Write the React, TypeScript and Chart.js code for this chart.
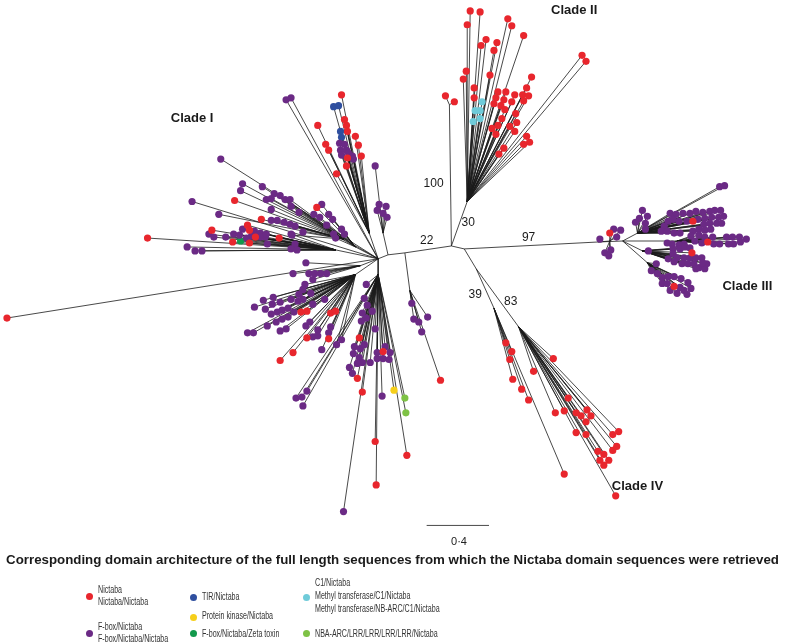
import React, { useEffect, useRef } from "react";
import { Chart, registerables } from "chart.js";

Chart.register(...registerables);

// Internal nodes of the unrooted tree: [x, y, parentIndex]
const nodes: [number, number, number][] = [
  [378, 258, -1], // 0 central hub
  [388, 254, 0], // 1
  [405, 252, 1], // 2
  [452, 245, 2], // 3
  [465, 248, 3], // 4
  [468, 200, 3], // 5 clade II base
  [450, 102, 3], // 6 bootstrap 100 branch
  [600, 241, 4], // 7 clade III stem
  [625, 240, 7], // 8
  [477, 268, 4], // 9 clade IV stem
  [495, 308, 9], // 10
  [520, 327, 9], // 11
  [369, 232, 0], // 12
  [383, 232, 1], // 13
  [343, 238, 0], // 14
  [335, 249, 0], // 15
  [355, 246, 0], // 16
  [360, 265, 0], // 17
  [355, 274, 0], // 18
  [378, 274, 0], // 19
  [410, 290, 2], // 20
  [640, 232, 8], // 21
  [645, 250, 8], // 22
  [612, 240, 7], // 23
  [680, 240, 8], // 24
  [650, 262, 8], // 25
];

// Leaves: [x, y, domain class, parent node]
type Leaf = [number, number, string, number];

const cladeII: Leaf[] = [
  [471, 7, "r", 5], [481, 8, "r", 5], [468, 21, "r", 5], [509, 15, "r", 5], [513, 22, "r", 5],
  [525, 32, "r", 5], [487, 36, "r", 5], [482, 42, "r", 5], [498, 39, "r", 5], [495, 47, "r", 5],
  [584, 52, "r", 5], [588, 58, "r", 5], [467, 68, "r", 5], [464, 76, "r", 5], [491, 72, "r", 5],
  [533, 74, "r", 5], [475, 85, "r", 5], [475, 95, "r", 5], [499, 89, "r", 5], [507, 89, "r", 5],
  [516, 92, "r", 5], [524, 92, "r", 5], [528, 85, "r", 5], [530, 93, "r", 5], [497, 95, "r", 5],
  [505, 97, "r", 5], [513, 99, "r", 5], [525, 98, "r", 5], [495, 101, "r", 5], [502, 103, "r", 5],
  [506, 107, "r", 5], [517, 111, "r", 5], [503, 116, "r", 5], [518, 120, "r", 5], [499, 123, "r", 5],
  [511, 124, "r", 5], [493, 126, "r", 5], [497, 132, "r", 5], [516, 129, "r", 5], [528, 134, "r", 5],
  [525, 142, "r", 5], [531, 140, "r", 5], [505, 146, "r", 5], [500, 152, "r", 5],
  [483, 99, "c", 5], [476, 108, "c", 5], [481, 108, "c", 5], [481, 116, "c", 5], [474, 119, "c", 5],
  [446, 93, "r", 6], [455, 99, "r", 6],
];

const cladeI: Leaf[] = [
  [341, 92, "r", 12], [333, 104, "b", 12], [338, 103, "b", 12], [344, 117, "r", 12], [346, 123, "r", 12],
  [347, 129, "r", 12], [340, 129, "b", 12], [341, 135, "b", 12], [355, 134, "r", 12], [358, 143, "r", 12],
  [317, 123, "r", 12], [325, 142, "r", 12], [328, 148, "r", 12], [339, 141, "p", 12], [344, 142, "p", 12],
  [340, 148, "p", 12], [346, 148, "p", 12], [341, 153, "p", 12], [348, 151, "p", 12], [352, 154, "p", 12],
  [347, 156, "r", 12], [361, 154, "r", 12], [353, 157, "p", 12], [346, 164, "r", 12], [336, 172, "r", 12],
  [285, 97, "p", 0], [290, 95, "p", 0],
  [375, 164, "p", 13], [379, 203, "p", 13], [386, 205, "p", 13], [377, 209, "p", 13], [383, 212, "p", 13], [387, 216, "p", 13],
  [219, 157, "p", 0], [190, 200, "p", 0],
  [241, 182, "p", 14], [239, 189, "p", 14], [261, 185, "p", 14], [273, 192, "p", 14], [279, 194, "p", 14],
  [284, 198, "p", 14], [289, 198, "p", 14], [265, 198, "p", 14], [270, 197, "p", 14], [290, 205, "p", 14],
  [270, 208, "p", 14], [298, 211, "p", 14], [233, 199, "r", 14], [217, 213, "p", 14], [260, 218, "r", 14],
  [270, 219, "p", 14], [276, 219, "p", 14], [283, 221, "p", 14], [289, 223, "p", 14], [294, 225, "p", 14],
  [302, 231, "p", 14], [291, 234, "p", 14],
  [316, 206, "r", 16], [321, 203, "p", 16], [313, 213, "p", 16], [319, 216, "p", 16], [328, 213, "p", 16],
  [332, 218, "p", 16], [326, 224, "p", 16], [341, 228, "p", 16], [333, 233, "p", 16], [344, 233, "p", 16], [335, 237, "p", 16],
  [210, 229, "r", 15], [207, 233, "p", 15], [212, 236, "p", 15], [246, 224, "r", 15], [248, 229, "r", 15],
  [241, 228, "p", 15], [238, 234, "p", 15], [232, 233, "p", 15], [224, 236, "p", 15], [231, 241, "r", 15],
  [239, 240, "g", 15], [248, 242, "r", 15], [254, 236, "r", 15], [253, 230, "p", 15], [259, 232, "p", 15],
  [264, 236, "p", 15], [259, 236, "p", 15], [266, 243, "p", 15], [278, 237, "r", 15], [290, 233, "p", 15],
  [294, 243, "p", 15], [290, 248, "p", 15], [296, 249, "p", 15], [265, 233, "p", 15], [250, 235, "p", 15],
  [245, 237, "p", 15], [145, 237, "r", 15], [185, 246, "p", 15], [193, 250, "p", 15], [200, 250, "p", 15],
  [3, 318, "r", 0],
];

const lowerGroup: Leaf[] = [
  [305, 262, "p", 17], [292, 273, "p", 17], [308, 273, "p", 17], [314, 273, "p", 17], [320, 273, "p", 17],
  [326, 273, "p", 17], [312, 279, "p", 17],
  [304, 284, "p", 18], [302, 289, "p", 18], [310, 293, "p", 18], [298, 294, "p", 18], [272, 297, "p", 18],
  [262, 300, "p", 18], [253, 307, "p", 18], [264, 309, "p", 18], [271, 304, "p", 18], [279, 302, "p", 18],
  [290, 299, "p", 18], [297, 301, "p", 18], [302, 299, "p", 18], [312, 304, "p", 18], [324, 299, "p", 18],
  [270, 314, "p", 18], [276, 312, "p", 18], [281, 310, "p", 18], [287, 308, "p", 18], [293, 312, "p", 18],
  [281, 319, "p", 18], [287, 317, "p", 18], [275, 322, "p", 18], [266, 326, "p", 18], [279, 331, "p", 18],
  [285, 329, "p", 18], [246, 333, "p", 18], [252, 333, "p", 18], [300, 312, "r", 18], [306, 311, "r", 18],
  [330, 313, "r", 18], [335, 311, "r", 18], [305, 326, "p", 18], [309, 322, "p", 18], [317, 330, "p", 18],
  [312, 337, "p", 18], [317, 336, "p", 18], [328, 333, "p", 18], [330, 327, "p", 18], [306, 338, "r", 18],
  [328, 339, "r", 18], [341, 340, "p", 18], [336, 345, "p", 18], [321, 350, "p", 18], [292, 353, "r", 18],
  [279, 361, "r", 18],
  [366, 284, "p", 19], [364, 298, "p", 19], [367, 305, "p", 19], [372, 311, "p", 19], [362, 313, "p", 19],
  [366, 318, "p", 19], [361, 321, "p", 19], [375, 329, "p", 19], [359, 338, "r", 19], [354, 347, "p", 19],
  [360, 349, "p", 19], [364, 345, "p", 19], [353, 354, "p", 19], [359, 358, "p", 19], [362, 363, "p", 19],
  [357, 364, "p", 19], [349, 368, "p", 19], [352, 374, "p", 19], [370, 363, "p", 19], [377, 359, "p", 19],
  [377, 353, "p", 19], [385, 347, "p", 19], [383, 352, "r", 19], [383, 359, "p", 19], [389, 360, "p", 19],
  [390, 353, "p", 19], [357, 379, "r", 19], [362, 393, "r", 19], [382, 397, "p", 19], [394, 391, "y", 19],
  [405, 399, "l", 19], [406, 414, "l", 19], [375, 443, "r", 19], [376, 487, "r", 19], [407, 457, "r", 19],
  [343, 514, "p", 19], [295, 399, "p", 19], [301, 398, "p", 19], [302, 407, "p", 19], [306, 392, "p", 19],
  [412, 303, "p", 20], [428, 317, "p", 20], [414, 319, "p", 20], [419, 322, "p", 20], [422, 332, "p", 20],
  [441, 381, "r", 20],
];

const cladeIII: Leaf[] = [
  [616, 228, "p", 23], [623, 229, "p", 23], [612, 232, "r", 23], [619, 236, "p", 23], [602, 238, "p", 7],
  [607, 252, "p", 23], [613, 249, "p", 23], [611, 255, "p", 23],
  [723, 185, "p", 21], [728, 184, "p", 21], [645, 209, "p", 21], [650, 215, "p", 21], [642, 217, "p", 21],
  [648, 222, "p", 21], [638, 221, "p", 21], [648, 228, "p", 21],
  [673, 212, "p", 21], [679, 213, "p", 21], [686, 212, "p", 21], [693, 212, "p", 21], [699, 210, "p", 21],
  [706, 211, "p", 21], [713, 210, "p", 21], [718, 209, "p", 21], [724, 209, "p", 21], [696, 220, "r", 21],
  [667, 225, "p", 21], [671, 220, "p", 21], [676, 218, "p", 21], [682, 220, "p", 21], [690, 220, "p", 21],
  [701, 218, "p", 21], [708, 217, "p", 21], [715, 216, "p", 21], [722, 216, "p", 21], [727, 215, "p", 21],
  [707, 223, "p", 21], [713, 222, "p", 21], [720, 222, "p", 21], [725, 222, "p", 21], [664, 230, "p", 21],
  [670, 230, "p", 21], [677, 232, "p", 21], [683, 232, "p", 21], [696, 230, "p", 21], [702, 228, "p", 21],
  [708, 229, "p", 21], [714, 228, "p", 21],
  [694, 235, "p", 24], [702, 234, "p", 24], [708, 236, "p", 24], [716, 236, "p", 24], [698, 240, "p", 24],
  [687, 243, "p", 24], [682, 244, "p", 24], [675, 243, "p", 24], [670, 242, "p", 24], [705, 242, "p", 24],
  [711, 241, "r", 24], [717, 243, "p", 24], [723, 243, "p", 24], [730, 236, "p", 24], [736, 236, "p", 24],
  [743, 236, "p", 24], [750, 238, "p", 24], [744, 241, "p", 24], [737, 243, "p", 24], [732, 243, "p", 24],
  [651, 250, "p", 22], [676, 248, "p", 22], [683, 248, "p", 22], [688, 246, "p", 22], [693, 247, "p", 22],
  [695, 252, "r", 22], [676, 253, "p", 22], [680, 257, "p", 22], [687, 257, "p", 22], [693, 257, "p", 22],
  [699, 257, "p", 22], [705, 257, "p", 22], [671, 258, "p", 22], [677, 261, "p", 22], [685, 263, "p", 22],
  [691, 263, "p", 22], [697, 263, "p", 22], [702, 267, "p", 22], [708, 268, "p", 22], [710, 263, "p", 22],
  [706, 262, "p", 22], [699, 268, "p", 22],
  [659, 263, "p", 25], [654, 270, "p", 25], [660, 273, "p", 25], [665, 277, "p", 25], [671, 276, "p", 25],
  [677, 276, "p", 25], [684, 278, "p", 25], [691, 282, "p", 25], [665, 283, "p", 25], [670, 283, "p", 25],
  [677, 286, "r", 25], [683, 287, "p", 25], [694, 288, "p", 25], [673, 290, "p", 25], [680, 293, "p", 25],
  [687, 290, "p", 25], [690, 294, "p", 25],
];

const cladeIV: Leaf[] = [
  [507, 343, "r", 10], [513, 352, "r", 10], [511, 360, "r", 10], [514, 380, "r", 10], [523, 390, "r", 10],
  [530, 401, "r", 10], [566, 476, "r", 10],
  [535, 372, "r", 11], [555, 359, "r", 11], [570, 399, "r", 11], [557, 414, "r", 11], [566, 412, "r", 11],
  [578, 414, "r", 11], [583, 417, "r", 11], [589, 411, "r", 11], [593, 417, "r", 11], [588, 423, "r", 11],
  [578, 434, "r", 11], [588, 436, "r", 11], [615, 436, "r", 11], [621, 433, "r", 11], [615, 452, "r", 11],
  [619, 448, "r", 11], [600, 453, "r", 11], [606, 456, "r", 11], [602, 462, "r", 11], [611, 462, "r", 11],
  [606, 467, "r", 11], [618, 498, "r", 11],
];

const domainColors: Record<string, string> = {
  r: "#e8262d",
  p: "#6b2a85",
  b: "#2f4f9f",
  y: "#f6cf1a",
  g: "#12994c",
  c: "#6fcbd9",
  l: "#7ec245",
};

const cladeLabels: [string, number, number][] = [
  ["Clade I", 190, 116],
  ["Clade II", 576, 6],
  ["Clade III", 751, 286],
  ["Clade IV", 640, 488],
];

const supportLabels: [string, number, number][] = [
  ["100", 434, 182],
  ["30", 469, 221],
  ["22", 427, 240],
  ["97", 530, 237],
  ["39", 476, 294],
  ["83", 512, 301],
];

// scale bar: start x, y, length (0.4 substitutions/site)
const scaleBar = [427, 528, 63];

const legendItems: { key: string; lines: string[] }[] = [
  { key: "r", lines: ["Nictaba", "Nictaba/Nictaba"] },
  { key: "p", lines: ["F-box/Nictaba", "F-box/Nictaba/Nictaba"] },
  { key: "b", lines: ["TIR/Nictaba"] },
  { key: "y", lines: ["Protein kinase/Nictaba"] },
  { key: "g", lines: ["F-box/Nictaba/Zeta toxin"] },
  { key: "c", lines: ["C1/Nictaba", "Methyl transferase/C1/Nictaba", "Methyl transferase/NB-ARC/C1/Nictaba"] },
  { key: "l", lines: ["NBA-ARC/LRR/LRR/LRR/LRR/Nictaba"] },
];

// legend layout (pixels)
const legendPos: Record<string, { dx: number; dy: number; ty: number[] }> = {
  r: { dx: 89, dy: 596, ty: [590, 602] },
  p: { dx: 89, dy: 633, ty: [627, 639] },
  b: { dx: 193, dy: 597, ty: [597] },
  y: { dx: 193, dy: 617, ty: [616] },
  g: { dx: 193, dy: 633, ty: [634] },
  c: { dx: 306, dy: 597, ty: [583, 596, 609] },
  l: { dx: 306, dy: 633, ty: [634] },
};

const allLeaves: Leaf[] = [...cladeI, ...cladeII, ...lowerGroup, ...cladeIII, ...cladeIV];

export default function App() {
  const ref = useRef<HTMLCanvasElement>(null);

  useEffect(() => {
    const edges: { x: number; y: number }[] = [];
    nodes.forEach(([x, y, p]) => {
      if (p < 0) return;
      const [px, py] = nodes[p];
      edges.push({ x: px, y: py }, { x, y }, { x: NaN, y: NaN });
    });
    allLeaves.forEach(([x, y, , p]) => {
      const [px, py] = nodes[p];
      edges.push({ x: px, y: py }, { x, y }, { x: NaN, y: NaN });
    });
    // scale bar
    edges.push({ x: scaleBar[0], y: scaleBar[1] }, { x: scaleBar[0] + scaleBar[2], y: scaleBar[1] }, { x: NaN, y: NaN });

    const pointSets = Object.keys(domainColors).map((k) => ({
      type: "scatter" as const,
      label: k,
      data: allLeaves.filter((l) => l[2] === k).map(([x, y]) => ({ x, y })),
      backgroundColor: domainColors[k],
      borderWidth: 0,
      pointRadius: 3.6,
      showLine: false,
      clip: false as any,
      order: 0,
    }));

    const labelPlugin = {
      id: "treeLabels",
      afterDatasetsDraw(chart: any) {
        const { ctx, scales } = chart;
        ctx.save();
        ctx.fillStyle = "#1a1a1a";
        ctx.textAlign = "center";
        ctx.textBaseline = "middle";
        ctx.font = "bold 13px 'Liberation Sans', Arial, sans-serif";
        cladeLabels.forEach(([t, x, y]) => {
          ctx.fillText(t, scales.x.getPixelForValue(x), scales.y.getPixelForValue(y));
        });
        ctx.font = "12px 'Liberation Sans', Arial, sans-serif";
        supportLabels.forEach(([t, x, y]) => {
          ctx.fillText(t, scales.x.getPixelForValue(x), scales.y.getPixelForValue(y));
        });
        ctx.restore();
      },
    };

    const chart = new Chart(ref.current as HTMLCanvasElement, {
      type: "scatter",
      data: {
        datasets: [
          ...pointSets,
          {
            type: "scatter" as const,
            label: "edges",
            data: edges,
            showLine: true,
            spanGaps: false,
            borderColor: "#1a1a1a",
            borderWidth: 0.8,
            pointRadius: 0,
            clip: false as any,
            order: 10,
          } as any,
        ],
      },
      options: {
        animation: false,
        responsive: false,
        devicePixelRatio: 1,
        events: [],
        layout: { padding: 0 },
        scales: {
          x: { type: "linear", min: 0, max: 785, display: false },
          y: { type: "linear", min: 0, max: 643, reverse: true, display: false },
        },
        plugins: { legend: { display: false }, tooltip: { enabled: false } },
      },
      plugins: [labelPlugin],
    });
    return () => chart.destroy();
  }, []);

  const font = "'Liberation Sans', Arial, Helvetica, sans-serif";

  return (
    <div style={{ position: "absolute", left: 0, top: 0, width: 785, height: 643, background: "#fff", fontFamily: font, overflow: "hidden" }}>
      <canvas ref={ref} width={785} height={643} style={{ position: "absolute", left: 0, top: 0, width: 785, height: 643 }} />
      <div style={{ position: "absolute", left: 444, top: 535, width: 30, textAlign: "center", fontSize: 11, lineHeight: "12px", color: "#222" }}>0·4</div>
      <div style={{ position: "absolute", left: 0, top: 552, width: 785, textAlign: "center", fontSize: 13.3, fontWeight: "bold", lineHeight: "16px", color: "#1a1a1a", whiteSpace: "nowrap" }}>
        Corresponding domain architecture of the full length sequences from which the Nictaba domain sequences were retrieved
      </div>
      {legendItems.map((item) => {
        const pos = legendPos[item.key];
        return (
          <React.Fragment key={item.key}>
            <div style={{ position: "absolute", left: pos.dx - 3.5, top: pos.dy - 3.5, width: 7, height: 7, borderRadius: "50%", background: domainColors[item.key] }} />
            {item.lines.map((line, i) => (
              <div key={i} style={{ position: "absolute", left: pos.dx + 9, top: pos.ty[i] - 6, fontSize: 10, lineHeight: "12px", color: "#333", whiteSpace: "nowrap", transform: "scaleX(0.71)", transformOrigin: "left center" }}>
                {line}
              </div>
            ))}
          </React.Fragment>
        );
      })}
    </div>
  );
}
